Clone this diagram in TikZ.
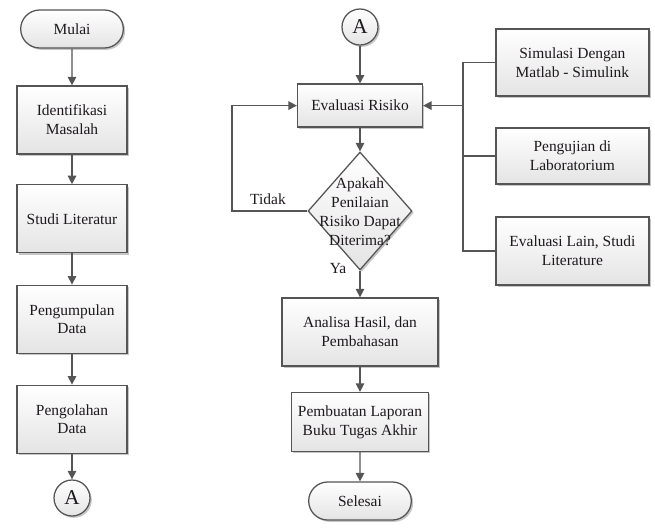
\documentclass[tikz,border=0pt]{standalone}
\usepackage{fontspec}
\setmainfont{Liberation Serif}
\usepackage{xcolor}
\usepackage{tikz}
\usetikzlibrary{arrows.meta,shapes.geometric,shapes.misc,shadows}
\definecolor{linegray}{RGB}{85,85,85}
\definecolor{boxgray}{RGB}{228,228,228}
\definecolor{textdark}{RGB}{30,25,30}

\begin{document}
\begin{tikzpicture}[
  font=\fontsize{11}{13.5}\selectfont, text=textdark,
  base/.style={draw=linegray, line width=0.9pt, top color=white, bottom color=boxgray,
    drop shadow={shadow xshift=1.3pt, shadow yshift=-1.3pt, opacity=0.45}},
  procbox/.style={base, rectangle, align=center, inner sep=2pt},
  termbox/.style={base, rounded rectangle, minimum width=2.8cm, minimum height=0.95cm},
  connbox/.style={base, circle, minimum size=0.9cm, inner sep=0pt, font=\fontsize{15}{17}\selectfont},
  decbox/.style={base, diamond, minimum width=2.6cm, minimum height=2.95cm, inner sep=0pt},
  flow/.style={draw=linegray, line width=1pt, -{Triangle[length=6pt, width=6pt]}},
  link/.style={draw=linegray, line width=1pt}]
\useasboundingbox (0,0) rectangle (16.375,-13.275);

% left column
\node[termbox] (mulai) at (1.8,-0.725) {Mulai};
\node[procbox, minimum width=2.75cm, minimum height=1.7cm] (ident) at (1.8,-3.0) {Identifikasi\\Masalah};
\node[procbox, minimum width=2.75cm, minimum height=1.7cm] (studi) at (1.8,-5.47) {Studi Literatur};
\node[procbox, minimum width=2.75cm, minimum height=1.7cm] (kumpul) at (1.8,-7.98) {Pengumpulan\\Data};
\node[procbox, minimum width=2.75cm, minimum height=1.7cm] (olah) at (1.8,-10.48) {Pengolahan\\Data};
\node[connbox] (aout) at (1.8,-12.45) {A};

\draw[flow] (mulai) -- (ident);
\draw[flow] (ident) -- (studi);
\draw[flow] (studi) -- (kumpul);
\draw[flow] (kumpul) -- (olah);
\draw[flow] (olah) -- (aout);

% middle column
\node[connbox] (ain) at (9.0,-0.675) {A};
\node[procbox, minimum width=3.125cm, minimum height=1.075cm] (eval) at (9.0,-2.64) {Evaluasi Risiko};
\node[decbox] (cek) at (9.0,-5.275) {};
\node[align=center, inner sep=0pt] (cektxt) at (9.0,-5.3) {Apakah\\Penilaian\\Risiko Dapat\\Diterima?};
\node[procbox, minimum width=3.9cm, minimum height=1.7cm] (analisa) at (9.0,-8.3) {Analisa Hasil, dan\\Pembahasan};
\node[procbox, minimum width=3.425cm, minimum height=1.475cm] (laporan) at (9.0,-10.55) {Pembuatan Laporan\\Buku Tugas Akhir};
\node[termbox] (selesai) at (9.0,-12.525) {Selesai};

\node (tidak) at (6.7,-4.97) {Tidak};
\node (ya) at (8.45,-6.72) {Ya};

\draw[flow] (ain) -- (eval);
\draw[flow] (eval) -- (cek);
\draw[flow] (cek) -- (analisa);
\draw[flow] (analisa) -- (laporan);
\draw[flow] (laporan) -- (selesai);

\coordinate (loop) at (5.8,0);
\draw[flow] (cek.west) -- (cek.west -| loop) |- (eval.west);

% right column
\node[procbox, minimum width=3.825cm, minimum height=1.675cm] (sim) at (14.31,-1.56) {Simulasi Dengan\\Matlab - Simulink};
\node[procbox, minimum width=3.825cm, minimum height=1.4cm] (uji) at (14.31,-3.9) {Pengujian di\\Laboratorium};
\node[procbox, minimum width=3.825cm, minimum height=1.7cm] (lain) at (14.31,-6.275) {Evaluasi Lain, Studi\\Literature};

\coordinate (bus) at (11.575,-2.64);
\draw[link] (sim.west) -| (bus |- lain.west) -- (lain.west);
\draw[link] (uji.west) -- (bus |- uji.west);
\draw[flow] (bus) -- (eval.east);
\end{tikzpicture}
\end{document}
